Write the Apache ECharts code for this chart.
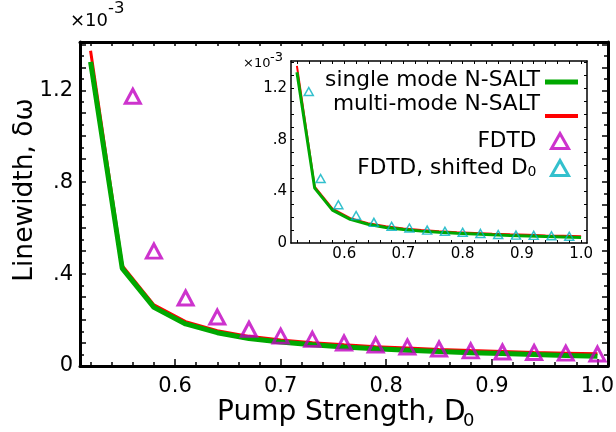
<!DOCTYPE html>
<html>
<head>
<meta charset="utf-8">
<script src="https://cdn.jsdelivr.net/npm/echarts@6/dist/echarts.min.js"></script>
<style>
  html, body { margin: 0; padding: 0; background: #fff; }
  #chart { width: 616px; height: 432px; }
</style>
</head>
<body>
<div id="chart"></div>
<script>
// Pump strength D0 for the N-SALT curves
const pumpX = [0.52, 0.55, 0.58, 0.61, 0.64, 0.67, 0.70, 0.73, 0.76, 0.79, 0.82, 0.85, 0.88, 0.91, 0.94, 0.97, 1.00];
// Linewidth in units of 1e-3
const singleMode = [1.323, 0.425, 0.255, 0.183, 0.145, 0.120, 0.104, 0.092, 0.083, 0.075, 0.069, 0.063, 0.058, 0.054, 0.050, 0.046, 0.042];
const multiMode  = [1.372, 0.437, 0.266, 0.193, 0.154, 0.129, 0.113, 0.101, 0.092, 0.084, 0.078, 0.072, 0.067, 0.063, 0.059, 0.056, 0.053];
// FDTD results (units of 1e-3)
const fdtdX = [0.56, 0.58, 0.61, 0.64, 0.67, 0.70, 0.73, 0.76, 0.79, 0.82, 0.85, 0.88, 0.91, 0.94, 0.97, 1.00];
const fdtdY = [1.174, 0.500, 0.296, 0.213, 0.160, 0.130, 0.116, 0.100, 0.091, 0.083, 0.074, 0.066, 0.061, 0.059, 0.056, 0.052];
// FDTD with the pump strength shifted
const shiftedX = [0.54, 0.56, 0.59, 0.62, 0.65, 0.68, 0.71, 0.74, 0.77, 0.80, 0.83, 0.86, 0.89, 0.92, 0.95, 0.98];
const shiftedY = [1.174, 0.500, 0.296, 0.213, 0.160, 0.130, 0.116, 0.100, 0.091, 0.083, 0.074, 0.066, 0.061, 0.059, 0.056, 0.052];

// Axis ticks and labels
const xLabelValues = [0.6, 0.7, 0.8, 0.9, 1.0];
const xMinorTicks = [0.52, 0.54, 0.56, 0.58, 0.60, 0.62, 0.64, 0.66, 0.68, 0.70, 0.72, 0.74, 0.76, 0.78, 0.80,
                     0.82, 0.84, 0.86, 0.88, 0.90, 0.92, 0.94, 0.96, 0.98, 1.00];
const yLabelValues = [0, 0.4, 0.8, 1.2];
const yLabelTexts = ['0', '.4', '.8', '1.2'];
const yMajorTicks = [0.1, 0.2, 0.3, 0.4, 0.5, 0.6, 0.7, 0.8, 0.9, 1.0, 1.1, 1.2, 1.3, 1.4];
const yMinorTicks = [0.05, 0.15, 0.25, 0.35, 0.45, 0.55, 0.65, 0.75, 0.85, 0.95, 1.05, 1.15, 1.25, 1.35];

const X_MIN = 0.51, X_MAX = 1.01, Y_MIN = 0, Y_MAX = 1.41;
const FONT = 'DejaVu Sans';
const GREEN = '#00a800', RED = '#ff0000', MAGENTA = '#c000c0', CYAN = '#00b0c0';

const pairs = (xs, ys) => xs.map((x, i) => [x, ys[i]]);
const yLabelFmt = v => {
  const i = yLabelValues.findIndex(t => Math.abs(t - v) < 1e-9);
  return i >= 0 ? yLabelTexts[i] : '';
};

function xAxisDef(grid, pos, o) {
  return Object.assign({
    type: 'value', gridIndex: grid, position: pos, min: X_MIN, max: X_MAX,
    splitLine: { show: false },
    axisLine: { show: false },
    axisTick: { show: false },
    axisLabel: { show: false }
  }, o);
}
function yAxisDef(grid, pos, o) {
  return Object.assign({
    type: 'value', gridIndex: grid, position: pos, min: Y_MIN, max: Y_MAX,
    splitLine: { show: false },
    axisLine: { show: false },
    axisTick: { show: false },
    axisLabel: { show: false }
  }, o);
}
const ticks = (vals, len, w) => ({ show: true, inside: true, length: len, customValues: vals, lineStyle: { color: '#000', width: w } });
const frame = w => ({ show: true, onZero: false, lineStyle: { color: '#000', width: w } });

// Plain text piece (used for titles, exponents and subscripts)
const txt = (text, x, y, size, extra) => Object.assign({
  type: 'text', x: x, y: y, silent: true,
  style: { text: text, fill: '#000', font: size + 'px ' + FONT, align: 'left', verticalAlign: 'middle' }
}, extra || {});

const chart = echarts.init(document.getElementById('chart'), null, { renderer: 'canvas' });

// Legend: one component per entry so every row is right-aligned against its key
const legendText = { fontFamily: FONT, fontSize: 21.7, color: '#000' };
const legendEntries = [
  { name: 'single mode N-SALT', top: 69, icon: 'rect', w: 33, h: 5, color: GREEN, pad: [0, 0, 4, 0] },
  { name: 'multi-mode N-SALT', top: 93, icon: 'rect', w: 33, h: 4, color: RED, pad: [0, 0, 24, 0] },
  { name: 'FDTD', top: 130, icon: 'triangle', w: 17, h: 15, color: MAGENTA, pad: [0, 10, 0, 0] },
  { name: 'FDTD, shifted D0', top: 157, icon: 'triangle', w: 17, h: 15, color: CYAN, pad: [0, 10, 0, 0] }
];

const option = {
  animation: false,
  backgroundColor: '#fff',
  textStyle: { fontFamily: FONT },
  grid: [
    { left: 80, top: 42, right: 8, bottom: 66, containLabel: false, outerBoundsMode: 'none' },
    { left: 291, top: 61, right: 29, bottom: 189, containLabel: false, outerBoundsMode: 'none',
      show: true, backgroundColor: '#fff', borderWidth: 0 }
  ],
  xAxis: [
    // main plot
    xAxisDef(0, 'bottom', {
      axisLine: frame(3),
      axisTick: ticks(xLabelValues, 7, 1.5),
      axisLabel: { show: true, customValues: xLabelValues, formatter: v => v.toFixed(1),
        color: '#000', fontFamily: FONT, fontSize: 21, margin: 10 }
    }),
    xAxisDef(0, 'bottom', { axisTick: ticks(xMinorTicks, 4, 1.5) }),
    xAxisDef(0, 'top', { axisLine: frame(3), axisTick: ticks(xMinorTicks, 4, 1.5) }),
    // inset
    xAxisDef(1, 'bottom', {
      axisLine: frame(1.5),
      axisTick: ticks(xMinorTicks, 3, 1),
      axisLabel: { show: true, customValues: xLabelValues, formatter: v => v.toFixed(1),
        color: '#000', fontFamily: FONT, fontSize: 15, margin: 4 }
    }),
    xAxisDef(1, 'top', { axisLine: frame(1.5), axisTick: ticks(xMinorTicks, 3, 1) })
  ],
  yAxis: [
    // main plot
    yAxisDef(0, 'left', {
      axisLine: frame(3),
      axisTick: ticks(yMajorTicks, 6, 1.5),
      axisLabel: { show: true, customValues: yLabelValues, formatter: yLabelFmt,
        color: '#000', fontFamily: FONT, fontSize: 21, margin: 7 }
    }),
    yAxisDef(0, 'left', { axisTick: ticks(yMinorTicks, 4, 1.5) }),
    yAxisDef(0, 'right', { axisLine: frame(3), axisTick: ticks(yMajorTicks, 6, 1.5) }),
    yAxisDef(0, 'right', { axisTick: ticks(yMinorTicks, 4, 1.5) }),
    // inset
    yAxisDef(1, 'left', {
      axisLine: frame(1.5),
      axisTick: ticks(yMajorTicks, 3, 1),
      axisLabel: { show: true, customValues: yLabelValues, formatter: yLabelFmt,
        color: '#000', fontFamily: FONT, fontSize: 15, margin: 4 }
    }),
    yAxisDef(1, 'right', { axisLine: frame(1.5), axisTick: ticks(yMajorTicks, 3, 1) })
  ],
  legend: legendEntries.map(e => ({
    data: [{
      name: e.name, icon: e.icon,
      itemStyle: e.icon === 'rect'
        ? { color: e.color, borderWidth: 0 }
        : { color: 'rgba(0,0,0,0)', borderColor: e.color, borderWidth: 3 }
    }],
    right: e.icon === 'rect' ? 38 : 46, top: e.top, padding: 0, align: 'right',
    itemWidth: e.w, itemHeight: e.h, selectedMode: false,
    textStyle: Object.assign({}, legendText, { padding: e.pad,
      rich: { sub: { fontFamily: FONT, fontSize: 14, color: '#000', verticalAlign: 'bottom', lineHeight: 10 } } }),
    formatter: n => n === 'FDTD, shifted D0' ? 'FDTD, shifted D{sub|0}' : n
  })),
  graphic: [
    // exponent above the main plot
    txt('×10', 70, 21.5, 18),
    txt('-3', 108, 9, 16.5),
    // exponent above the inset
    txt('×10', 243, 63.5, 13),
    txt('-3', 270, 57.5, 13),
    // axis titles
    txt('Linewidth, δω', 25, 190, 26.5, { rotation: Math.PI / 2,
      style: { text: 'Linewidth, δω', fill: '#000', font: '26.5px ' + FONT, align: 'center', verticalAlign: 'middle' } }),
    txt('Pump Strength, D', 217, 413, 28),
    txt('0', 463, 421.5, 18)
  ],
  series: [
    { name: 'multi-mode N-SALT', type: 'line', xAxisIndex: 0, yAxisIndex: 0, data: pairs(pumpX, multiMode),
      symbol: 'none', lineStyle: { color: RED, width: 3 }, itemStyle: { color: RED }, z: 2 },
    { name: 'single mode N-SALT', type: 'line', xAxisIndex: 0, yAxisIndex: 0, data: pairs(pumpX, singleMode),
      symbol: 'none', lineStyle: { color: GREEN, width: 5 }, itemStyle: { color: GREEN }, z: 3 },
    { name: 'FDTD', type: 'scatter', xAxisIndex: 0, yAxisIndex: 0, data: pairs(fdtdX, fdtdY),
      symbol: 'triangle', symbolSize: [15, 14],
      itemStyle: { color: 'rgba(0,0,0,0)', borderColor: MAGENTA, borderWidth: 3 }, z: 4 },
    { name: 'multi-mode N-SALT', type: 'line', xAxisIndex: 3, yAxisIndex: 4, data: pairs(pumpX, multiMode),
      symbol: 'none', lineStyle: { color: RED, width: 2 }, itemStyle: { color: RED }, z: 2 },
    { name: 'single mode N-SALT', type: 'line', xAxisIndex: 3, yAxisIndex: 4, data: pairs(pumpX, singleMode),
      symbol: 'none', lineStyle: { color: GREEN, width: 3 }, itemStyle: { color: GREEN }, z: 3 },
    { name: 'FDTD, shifted D0', type: 'scatter', xAxisIndex: 3, yAxisIndex: 4, data: pairs(shiftedX, shiftedY),
      symbol: 'triangle', symbolSize: [9, 8],
      itemStyle: { color: 'rgba(0,0,0,0)', borderColor: CYAN, borderWidth: 1.5 }, z: 4 }
  ]
};

chart.setOption(option);
</script>
</body>
</html>
